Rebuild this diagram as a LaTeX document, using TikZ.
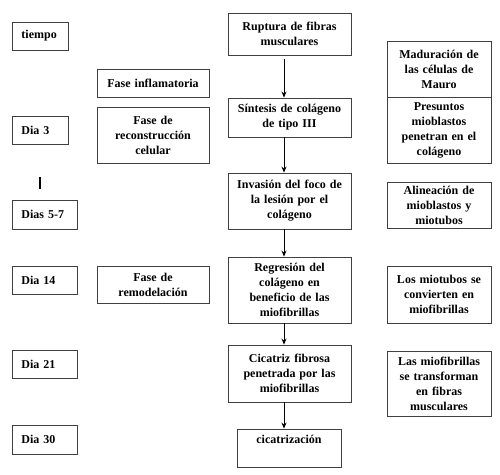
\documentclass[tikz,border=0pt]{standalone}
\usepackage{fontspec}
\setmainfont{Liberation Serif}
\usetikzlibrary{arrows.meta}

\begin{document}
\begin{tikzpicture}[x=1pt, y=-1pt, >={Stealth[length=6pt, width=5pt]},
  caja/.style={draw=black!75, line width=0.9pt, inner xsep=3pt, inner ysep=2pt,
    align=center, font=\bfseries\fontsize{12}{15}\selectfont},
  dia/.style={caja, anchor=west, inner xsep=9pt, align=left, minimum height=28pt},
  flecha/.style={->, line width=0.8pt}]
  \useasboundingbox (0,0) rectangle (500,474);
  % Columna del tiempo
  \node[dia, text width=38pt] (tiempo) at (12,36) {tiempo};
  \node[dia, text width=38pt] (dia3) at (12,130) {Dia 3};
  \draw[line width=1.6pt] (40,177) -- (40,189);
  \node[dia, text width=47pt, minimum height=29pt] (dia5) at (12,214.5) {Dias 5-7};
  \node[dia, text width=47pt] (dia14) at (12,280) {Dia 14};
  \node[dia, text width=47pt] (dia21) at (12,364) {Dia 21};
  \node[dia, text width=47pt, minimum height=29pt] (dia30) at (12,439.5) {Dia 30};
  % Fases
  \node[caja, text width=106pt, minimum height=28pt] (inflam) at (153,83) {Fase inflamatoria};
  \node[caja, text width=106pt, minimum height=56pt] (recons) at (153,135)
    {Fase de\\reconstrucción\\celular};
  \node[caja, text width=106pt, minimum height=37pt] (remod) at (153,284.5)
    {Fase de\\remodelación};
  % Secuencia central
  \node[caja, text width=117pt, minimum height=42pt] (ruptura) at (289.5,34)
    {Ruptura de fibras\\musculares};
  \node[caja, text width=117pt, minimum height=39pt] (sintesis) at (289.5,117.5)
    {Síntesis de colágeno\\de tipo III};
  \node[caja, text width=117pt, minimum height=56pt] (invasion) at (289.5,201)
    {Invasión del foco de\\la lesión por el\\colágeno};
  \node[caja, text width=117pt, minimum height=66pt] (regresion) at (289.5,290)
    {Regresión del\\colágeno en\\beneficio de las\\miofibrillas};
  \node[caja, text width=117pt, minimum height=57pt] (cicatriz) at (289.5,373.5)
    {Cicatriz fibrosa\\penetrada por las\\miofibrillas};
  \node[caja, text width=98pt, minimum height=38pt, text depth=18pt] (cicatrizacion) at (289,448)
    {cicatrización};
  \draw[flecha, shorten <=4pt] ([xshift=-5.5pt]ruptura.south) -- ([xshift=-5.5pt]sintesis.north);
  \draw[flecha] ([xshift=-5.5pt]sintesis.south) -- ([xshift=-5.5pt]invasion.north);
  \draw[flecha] ([xshift=-5.5pt]invasion.south) -- ([xshift=-5.5pt]regresion.north);
  \draw[flecha] ([xshift=-5.5pt]regresion.south) -- ([xshift=-5.5pt]cicatriz.north);
  \draw[flecha] ([xshift=-5.5pt]cicatriz.south) -- ([xshift=-5pt]cicatrizacion.north);
  % Columna celular
  \node[caja, text width=98pt, minimum height=56pt] (maduracion) at (439,69)
    {Maduración de\\las células de\\Mauro};
  \node[caja, text width=98pt, minimum height=66pt] (presuntos) at (439,130)
    {Presuntos\\mioblastos\\penetran en el\\colágeno};
  \node[caja, text width=98pt, minimum height=46pt] (alineacion) at (439,205)
    {Alineación de\\mioblastos y\\miotubos};
  \node[caja, text width=98pt, minimum height=57pt] (miotubos) at (439,294.5)
    {Los miotubos se\\convierten en\\miofibrillas};
  \node[caja, text width=98pt, minimum height=65pt] (miofibrillas) at (439,383.5)
    {Las miofibrillas\\se transforman\\en fibras\\musculares};
\end{tikzpicture}
\end{document}
